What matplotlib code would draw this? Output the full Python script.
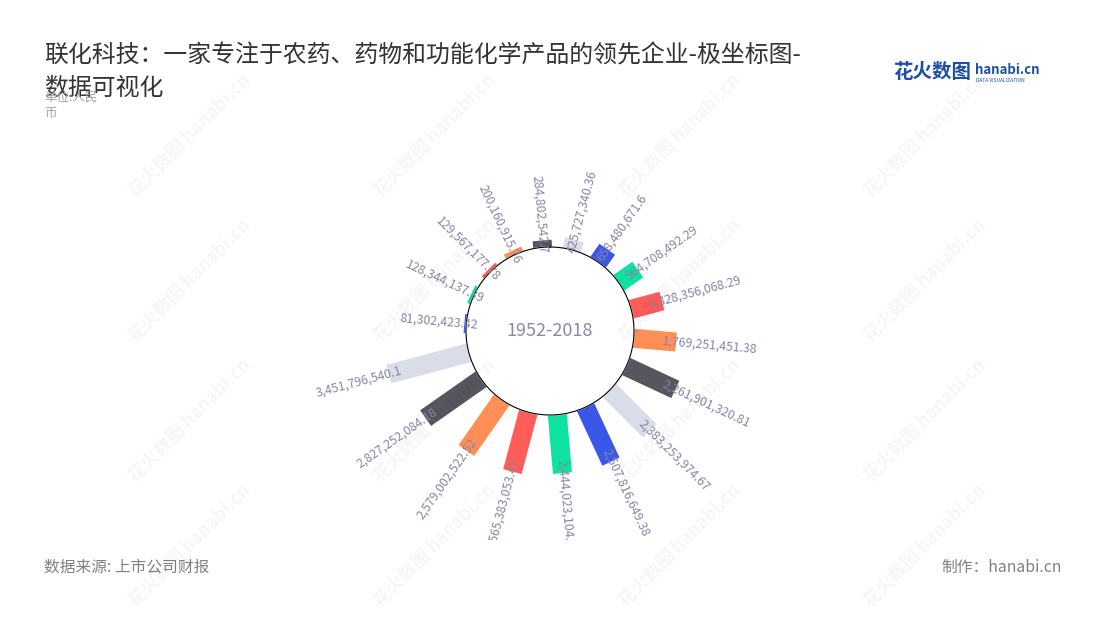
import numpy as np
import matplotlib
matplotlib.use('Agg')
import matplotlib.pyplot as plt
from matplotlib.transforms import Bbox, TransformedBbox

plt.rcParams['font.family'] = ['Noto Sans CJK SC', 'DejaVu Sans']

# ==========================
# Data (revenue, RMB)
# ==========================

values = [
    81302423.42, 128344137.39, 129567177.78, 200160915.76,
    284802542.7, 425727340.36, 658480671.6, 964708492.29,
    1328356068.29, 1769251451.38, 2261901320.81, 2383253974.67,
    2507816649.38, 2444023104.5, 2565383053.47, 2579002522.52,
    2827252084.18, 3451796540.1
]
value_labels = [
    '81,302,423.42', '128,344,137.39', '129,567,177.78', '200,160,915.76',
    '284,802,542.7', '425,727,340.36', '658,480,671.6', '964,708,492.29',
    '1,328,356,068.29', '1,769,251,451.38', '2,261,901,320.81', '2,383,253,974.67',
    '2,507,816,649.38', '2,444,023,104.5', '2,565,383,053.47', '2,579,002,522.52',
    '2,827,252,084.18', '3,451,796,540.1'
]
palette = ['#3b57e8', '#0ee2a0', '#ff5c5a', '#ff8f57', '#56565f', '#d9dde8']

title_1 = '联化科技：一家专注于农药、药物和功能化学产品的领先企业-极坐标图-'
title_2 = '数据可视化'
center_text = '1952-2018'

# ==========================
# Figure / polar axes
# ==========================

W, H = 1100, 620
fig = plt.figure(figsize=(11, 6.2), dpi=100)
fig.patch.set_facecolor('white')

cx, cy, R = 550, 331, 240  # pixel centre & axes radius
ax = fig.add_axes([(cx - R) / W, (H - cy - R) / H, 2 * R / W, 2 * R / H],
                  projection='polar')
ax.set_theta_zero_location('N')
ax.set_theta_direction(-1)
hole = 3.5          # inner circle radius (in billions)
ax.set_ylim(0, 10)
ax.axis('off')

n = len(values)
thetas = np.radians(-85 + 360 / n * np.arange(n))
vals_b = np.array(values) / 1e9

# bars (constant pixel width, like the reference)
for i, (th, v) in enumerate(zip(thetas, vals_b)):
    ax.plot([th, th], [hole, hole + v], color=palette[i % len(palette)],
            linewidth=13.7, solid_capstyle='butt', zorder=2)

# inner circle
circ_t = np.linspace(0, 2 * np.pi, 400)
ax.fill(circ_t, np.full_like(circ_t, hole), color='white', zorder=3)
ax.plot(circ_t, np.full_like(circ_t, hole), color='black', linewidth=0.8, zorder=4)

ax.text(0, 0, center_text, ha='center', va='center', fontsize=13,
        color='#8a8aa0', zorder=5)

# value labels along the radius
clip = TransformedBbox(Bbox([[0, (H - 540) / H], [1, 1]]), fig.transFigure)
for th, v, lab in zip(thetas, vals_b, value_labels):
    deg = np.degrees(th) % 360
    phi = 90 - deg
    if deg < 180:
        rot, ha = phi, 'left'
    else:
        rot, ha = phi + 180, 'right'
    t = ax.text(th, hole + v - 0.55, lab, rotation=rot, rotation_mode='anchor',
                ha=ha, va='center', fontsize=8.8, color='#8586a0', zorder=6)
    t.set_clip_on(True)
    t.set_clip_box(clip)

# ==========================
# Titles, notes, logo
# ==========================

fig.text(44 / W, 1 - 56 / H, title_1, fontsize=17.2, color='#333333', va='center')
fig.text(44 / W, 1 - 88 / H, title_2, fontsize=17.2, color='#333333', va='center')
fig.text(44 / W, 1 - 97 / H, '单位:人民', fontsize=9, color='#a0a0a8', va='center')
fig.text(44 / W, 1 - 113 / H, '币', fontsize=9, color='#a0a0a8', va='center')

fig.text(44 / W, 1 - 567 / H, '数据来源: 上市公司财报', fontsize=11.3,
         color='#808080', va='center')
fig.text(1062 / W, 1 - 567 / H, '制作：hanabi.cn', fontsize=11.3,
         color='#808080', va='center', ha='right')

fig.text(893 / W, 1 - 73 / H, '花火数图', fontsize=14, color='#1d4fa3',
         fontweight='bold', va='center')
fig.text(975 / W, 1 - 70 / H, 'hanabi.cn', fontsize=9.5, color='#1d4fa3',
         fontweight='bold', va='center')
fig.text(976 / W, 1 - 80 / H, 'DATA VISUALIZATION', fontsize=3.5, color='#1d4fa3',
         va='center')

# watermarks
for wx in [190, 435, 680, 925]:
    for wy in [135, 280, 420, 545]:
        fig.text(wx / W, 1 - wy / H, '花火数图 hanabi.cn', rotation=45,
                 fontsize=13, fontweight='bold', color='#000000', alpha=0.04,
                 ha='center', va='center')

fig.savefig('out.png', dpi=100)
